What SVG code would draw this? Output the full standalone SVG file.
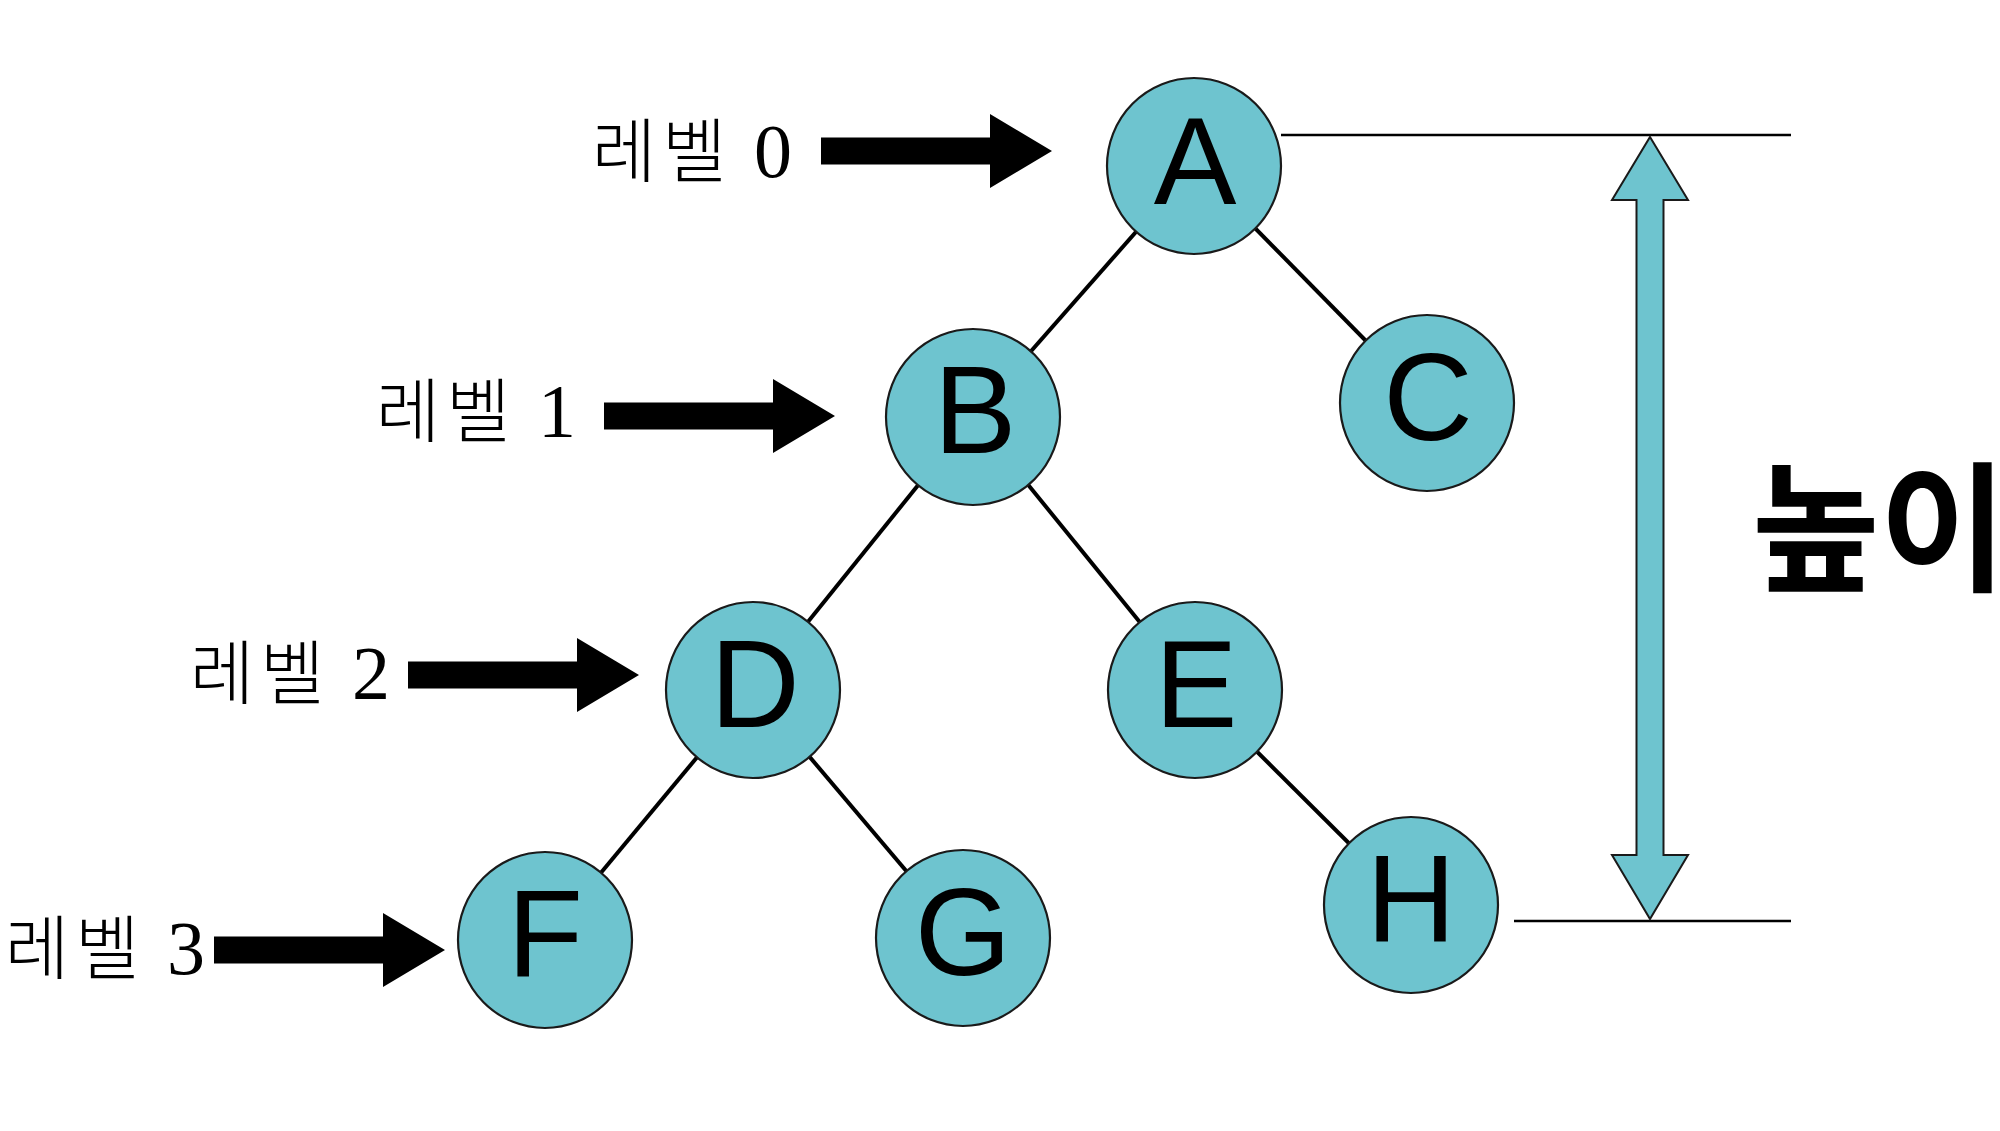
<svg xmlns="http://www.w3.org/2000/svg" xmlns:xlink="http://www.w3.org/1999/xlink" width="2000" height="1131" viewBox="0 0 2000 1131">
<style>
.node{fill:#6EC4CF;stroke:#1a1a1a;stroke-width:2.2}
.ntext{font-family:"Liberation Sans",Arial,sans-serif;font-size:124px;fill:#000;text-anchor:middle}
.edge{stroke:#000;stroke-width:4}
.lvl{font-family:"Noto Sans CJK KR","Liberation Serif",serif;font-weight:300;font-size:70px;letter-spacing:6px;fill:#000;text-anchor:end}
.digit{font-family:"Liberation Serif",serif;font-weight:normal;font-size:76px;letter-spacing:0}
.dim{stroke:#000;stroke-width:2.5}
</style>
<defs>
<path id="blk" d="M0,-13.5 H169 V-37 L231,0 L169,37 V13.5 H0 Z" fill="#000"/>
</defs>
<rect width="2000" height="1131" fill="#fff"/>
<g id="connectors">
<line class="edge" x1="1194" y1="166" x2="973" y2="417"/>
<line class="edge" x1="1194" y1="166" x2="1427" y2="403"/>
<line class="edge" x1="973" y1="417" x2="753" y2="690"/>
<line class="edge" x1="973" y1="417" x2="1195" y2="690"/>
<line class="edge" x1="753" y1="690" x2="545" y2="940"/>
<line class="edge" x1="753" y1="690" x2="963" y2="938"/>
<line class="edge" x1="1195" y1="690" x2="1411" y2="905"/>
</g>
<g id="node-A"><ellipse class="node" cx="1194" cy="166" rx="87" ry="88"/><text class="ntext" x="1195" y="204">A</text></g>
<g id="node-B"><ellipse class="node" cx="973" cy="417" rx="87" ry="88"/><text class="ntext" x="975" y="453">B</text></g>
<g id="node-C"><ellipse class="node" cx="1427" cy="403" rx="87" ry="88"/><text class="ntext" x="1428" y="440">C</text></g>
<g id="node-D"><ellipse class="node" cx="753" cy="690" rx="87" ry="88"/><text class="ntext" x="755" y="727">D</text></g>
<g id="node-E"><ellipse class="node" cx="1195" cy="690" rx="87" ry="88"/><text class="ntext" x="1196" y="727">E</text></g>
<g id="node-F"><ellipse class="node" cx="545" cy="940" rx="87" ry="88"/><text class="ntext" x="545" y="977">F</text></g>
<g id="node-G"><ellipse class="node" cx="963" cy="938" rx="87" ry="88"/><text class="ntext" x="963" y="975">G</text></g>
<g id="node-H"><ellipse class="node" cx="1411" cy="905" rx="87" ry="88"/><text class="ntext" x="1411" y="942">H</text></g>
<g id="level-arrows">
<use xlink:href="#blk" href="#blk" transform="translate(821,151)"/>
<use xlink:href="#blk" href="#blk" transform="translate(604,416)"/>
<use xlink:href="#blk" href="#blk" transform="translate(408,675)"/>
<use xlink:href="#blk" href="#blk" transform="translate(214,950)"/>
</g>
<g id="level-labels">
<text class="lvl" x="792" y="177">레벨 <tspan class="digit">0</tspan></text>
<text class="lvl" x="576" y="437">레벨 <tspan class="digit">1</tspan></text>
<text class="lvl" x="390" y="699">레벨 <tspan class="digit">2</tspan></text>
<text class="lvl" x="205" y="974">레벨 <tspan class="digit">3</tspan></text>
</g>
<g id="height">
<line class="dim" x1="1281" y1="135" x2="1791" y2="135"/>
<line class="dim" x1="1514" y1="921" x2="1791" y2="921"/>
<polygon points="1650,137 1688,200 1663.5,200 1663.5,855 1688,855 1650,919 1612,855 1636.5,855 1636.5,200 1612,200" fill="#6EC4CF" stroke="#1a1a1a" stroke-width="2"/>
<text transform="translate(1752,580) scale(0.99,1)" x="0" y="0" font-family="Noto Sans CJK KR, sans-serif" font-weight="bold" font-size="140" fill="#000">높이</text>
</g>
</svg>
